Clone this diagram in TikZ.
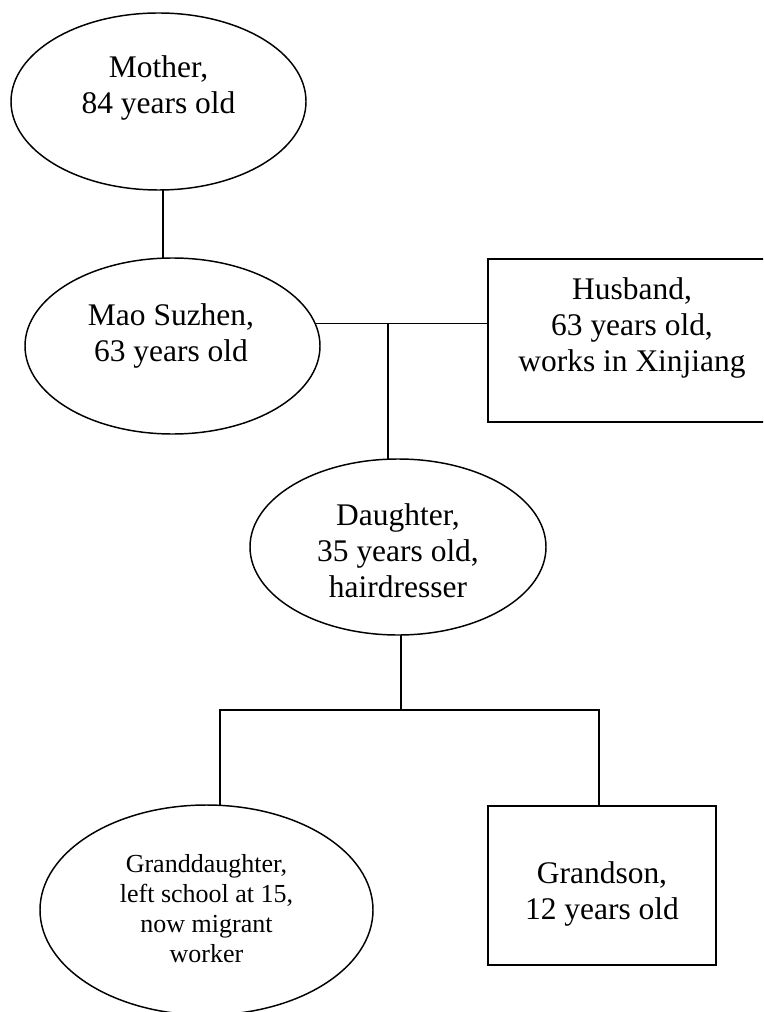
\documentclass[tikz,border=0pt]{standalone}
\usepackage{fontspec}
\setmainfont{Liberation Serif}
\usetikzlibrary{shapes.geometric}

\begin{document}
\begin{tikzpicture}[
  x=0.75pt, y=-0.75pt,
  line width=1.1pt,
  oval/.style={draw, ellipse, inner sep=0pt, outer sep=0pt},
  box/.style={draw, rectangle, inner sep=0pt, outer sep=0pt},
  label/.style={inner sep=0pt, align=center, font=\fontsize{23.6}{27}\selectfont},
  smalllabel/.style={inner sep=0pt, align=center, font=\fontsize{19.5}{22.5}\selectfont},
  link/.style={draw, line width=1.1pt}
]
\useasboundingbox (0,0) rectangle (763,1012);
\clip (0,0) rectangle (763,1012);

% people
\node[oval, minimum width=221.25pt, minimum height=132.75pt] (mother) at (158.5,101.5) {};
\node[label] (mothertext) at (158.5,87.5) {Mother,\\84 years old};

\node[oval, minimum width=221.25pt, minimum height=132pt] (mao) at (172.5,346) {};
\node[label] (maotext) at (171,336) {Mao Suzhen,\\63 years old};

\node[box, minimum width=216pt, minimum height=122.25pt] (husband) at (632,340.5) {};
\node[label] (husbandtext) at (632,327.5) {Husband,\\63 years old,\\works in Xinjiang};

\node[oval, minimum width=222pt, minimum height=132pt] (daughter) at (398,547) {};
\node[label] (daughtertext) at (398,551) {Daughter,\\35 years old,\\hairdresser};

\node[oval, minimum width=249.75pt, minimum height=157.5pt] (gd) at (206.5,910) {};
\node[smalllabel] (gdtext) at (206.5,908.5) {Granddaughter,\\left school at 15,\\now migrant\\worker};

\node[box, minimum width=171pt, minimum height=119.25pt] (gs) at (602,885.5) {};
\node[label] (gstext) at (602,893.5) {Grandson,\\12 years old};

% junctions of the family lines
\coordinate (mj) at (388,324);
\coordinate (forkL) at (220,710);
\coordinate (forkR) at (599,710);

% connectors
\draw[link] (mother.-87) -- (mother.-87 |- mao.north);
\draw[link] (mao.9) -- (mao.9 -| husband.west);
\draw[link] (mj) -- (mj |- daughter.north);
\draw[link] (daughter.-88) -- (daughter.-88 |- forkL);
\draw[link] (forkL |- gd.north) -- (forkL) -- (forkR) -- (forkR |- gs.north);
\end{tikzpicture}
\end{document}
